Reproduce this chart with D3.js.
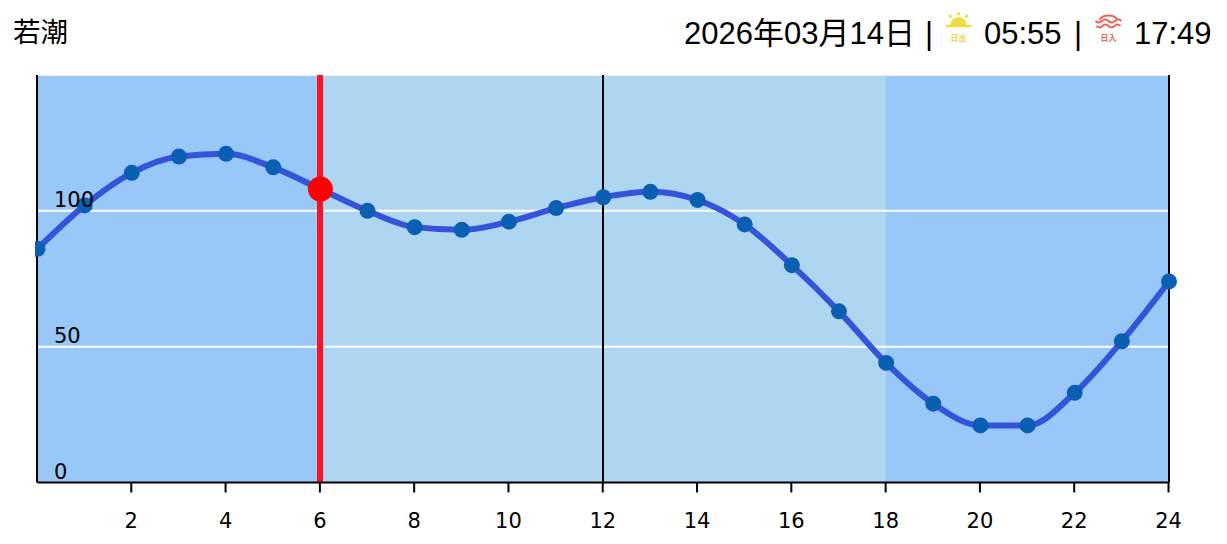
<!DOCTYPE html>
<html>
<head>
	<meta charset="utf-8">
	<style>
	body { margin: 0; background: #fff; }
	svg { display: block; }
	.tick text, .ylabel { font-family: "DejaVu Sans", Verdana, sans-serif; font-size: 21px; fill: #000; }
	</style>
</head>
<body>
	<script src="https://cdn.jsdelivr.net/npm/d3@7"></script>
	<script>
	// tide level per hour
	var hours = [0,1,2,3,4,5,6,7,8,9,10,11,12,13,14,15,16,17,18,19,20,21,22,23,24];
	var tide = [86,102,114,120,121,116,108,100,94,93,96,101,105,107,104,95,80,63,44,29,21,21,33,52,74];
	var xTicks = [2,4,6,8,10,12,14,16,18,20,22,24];
	var yLabels = [0,50,100];
	var gridLevels = [50,100];
	var dayStart = 6, dayEnd = 18;
	var nowHour = 6, nowLevel = 108;
	var noonHour = 12;

	var title = "若潮";
	var dateText = "2026年03月14日";
	var sunrise = "05:55", sunset = "17:49";

	var width = 1227, height = 544;
	var margin = {top: 75, right: 58, bottom: 61.5, left: 37.5};

	var svg = d3.select("body").append("svg")
		.attr("width", width)
		.attr("height", height);

	var x = d3.scaleLinear().domain([0, 24]).range([margin.left, width - margin.right]);
	var y = d3.scaleLinear().domain([0, 150]).range([height - margin.bottom, margin.top]);

	// the first point is cut off just left of the axis
	svg.append("clipPath").attr("id", "plotclip").append("rect")
		.attr("x", 35).attr("y", 0).attr("width", width - 35).attr("height", height);

	// night / day bands
	var bands = [
		{from: 0, to: dayStart, color: "#98c7f8"},
		{from: dayStart, to: dayEnd, color: "#afd6f1"},
		{from: dayEnd, to: 24, color: "#98c7f8"}
	];
	svg.selectAll("rect.band").data(bands).enter().append("rect")
		.attr("class", "band")
		.attr("x", function(d){ return Math.round(x(d.from)); })
		.attr("y", y(150))
		.attr("width", function(d){ return Math.round(x(d.to)) - Math.round(x(d.from)); })
		.attr("height", y(0) - y(150))
		.style("fill", function(d){ return d.color; });

	// pale line along the top
	svg.append("line")
		.attr("x1", x(0)).attr("x2", x(24))
		.attr("y1", y(150) + 0.5).attr("y2", y(150) + 0.5)
		.style("stroke", "#eeeeee");

	// white grid lines
	svg.selectAll("line.grid").data(gridLevels).enter().append("line")
		.attr("class", "grid")
		.attr("x1", x(0)).attr("x2", x(24))
		.attr("y1", function(d){ return y(d); })
		.attr("y2", function(d){ return y(d); })
		.style("stroke", "#fff")
		.style("stroke-width", 2);

	// noon line
	svg.append("line")
		.attr("x1", Math.floor(x(noonHour))).attr("x2", Math.floor(x(noonHour)))
		.attr("y1", y(0)).attr("y2", y(150))
		.style("stroke", "#000")
		.style("stroke-width", 2);

	// current time line
	svg.append("line")
		.attr("x1", Math.round(x(nowHour))).attr("x2", Math.round(x(nowHour)))
		.attr("y1", y(0)).attr("y2", y(150))
		.style("stroke", "#ff1024")
		.style("stroke-width", 6);

	// x axis
	var xAxis = d3.axisBottom(x).tickValues(xTicks).tickSize(10).tickPadding(21).offset(-0.5);
	var gx = svg.append("g")
		.attr("transform", "translate(0," + y(0) + ")")
		.call(xAxis);
	gx.selectAll("path, line").style("stroke", "#000").style("stroke-width", 2);
	gx.select("path").attr("d", "M" + x(0) + ",0H" + x(24));
	gx.selectAll(".tick text").attr("font-family", null).attr("font-size", null);

	// left and right edges
	svg.selectAll("line.edge").data([0, 24]).enter().append("line")
		.attr("class", "edge")
		.attr("x1", function(d){ return Math.floor(x(d)); })
		.attr("x2", function(d){ return Math.floor(x(d)); })
		.attr("y1", y(0)).attr("y2", y(150))
		.style("stroke", "#000")
		.style("stroke-width", 2);

	// tide curve
	var line = d3.line()
		.x(function(d){ return x(d); })
		.y(function(d, i){ return y(tide[i]); })
		.curve(d3.curveMonotoneX);

	svg.append("path")
		.attr("d", line(hours))
		.style("fill", "none")
		.style("stroke", "#3454da")
		.style("stroke-width", 6);

	svg.selectAll("circle.pt").data(hours).enter().append("circle")
		.attr("class", "pt")
		.attr("clip-path", "url(#plotclip)")
		.attr("cx", function(d){ return x(d); })
		.attr("cy", function(d, i){ return y(tide[i]); })
		.attr("r", 8)
		.style("fill", "#0b5fb3");

	svg.append("circle")
		.attr("cx", x(nowHour))
		.attr("cy", y(nowLevel))
		.attr("r", 12.5)
		.style("fill", "#ff0000");

	// y labels sit inside the plot, on top of the curve
	svg.selectAll("text.ylabel").data(yLabels).enter().append("text")
		.attr("class", "ylabel")
		.attr("x", x(0) + 16.5)
		.attr("y", function(d){ return y(d) - 4; })
		.text(function(d){ return d; });

	// header
	svg.append("text")
		.attr("x", 13).attr("y", 41.5)
		.style("font-family", "'Noto Sans CJK JP', sans-serif")
		.style("font-size", "27.5px")
		.text(title);

	function headerText(anchorX, str) {
		return svg.append("text")
			.attr("x", anchorX).attr("y", 44)
			.style("font-family", "'Liberation Sans', 'Noto Sans CJK JP', sans-serif")
			.style("font-size", "31px")
			.text(str);
	}
	headerText(684, dateText);
	headerText(925, "|");
	headerText(984, sunrise);
	headerText(1074, "|");
	headerText(1134, sunset);

	// sunrise icon
	var sun = svg.append("g").attr("transform", "translate(958.5,0)");
	sun.append("path")
		.attr("d", "M-8,25 A8,8 0 0 1 8,25 Z")
		.style("fill", "#efdc45");
	sun.append("path")
		.attr("d", "M-13,26H13M0,12V15.5M-9.5,15L-7,17.5M9.5,15L7,17.5")
		.style("stroke", "#efdc45").style("stroke-width", 2.5).style("fill", "none");
	sun.append("text")
		.attr("y", 41).attr("text-anchor", "middle")
		.style("font-family", "'Noto Sans CJK JP', sans-serif")
		.style("font-size", "8px").style("font-weight", "700").style("fill", "#e8d450")
		.text("日出");

	// sunset icon
	var dusk = svg.append("g").attr("transform", "translate(1108.5,0)");
	dusk.append("path")
		.attr("d", "M-9,20 A9.5,6.5 0 0 1 9,20 M-13,21Q-10,24 -6.5,21T0,21T6.5,21T13,21M-12,26Q-9,29 -6,26T0,26T6,26T12,26")
		.style("stroke", "#ef6352").style("stroke-width", 2).style("fill", "none");
	dusk.append("text")
		.attr("y", 41).attr("text-anchor", "middle")
		.style("font-family", "'Noto Sans CJK JP', sans-serif")
		.style("font-size", "8px").style("font-weight", "700").style("fill", "#ef6352")
		.text("日入");
	</script>
</body>
</html>
